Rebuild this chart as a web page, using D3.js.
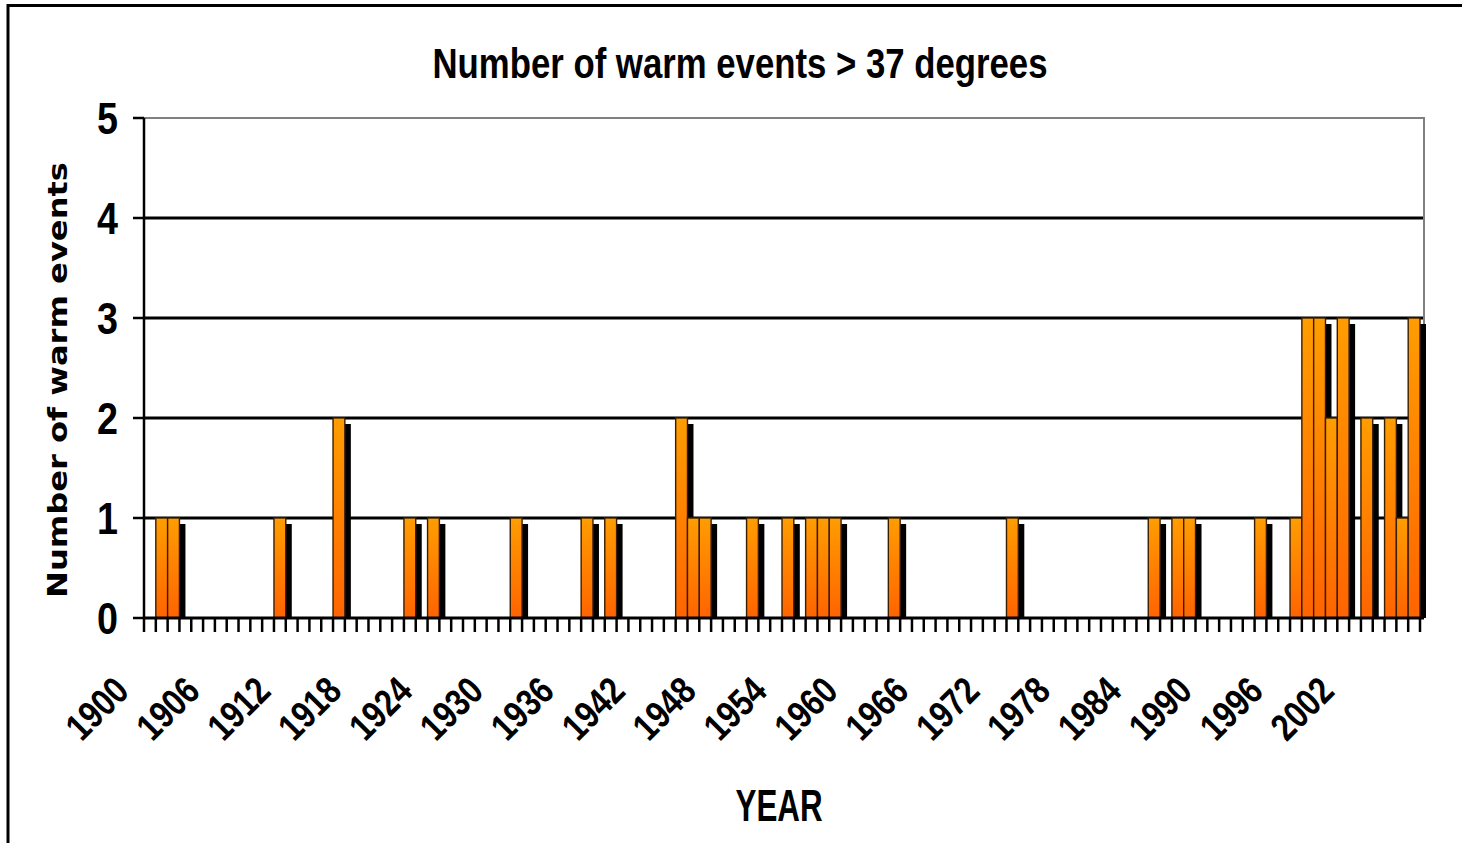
<!DOCTYPE html>
<html>
<head>
<meta charset="utf-8">
<script src="https://cdn.jsdelivr.net/npm/d3@7/dist/d3.min.js"></script>
<style>
  html, body { margin: 0; padding: 0; background: #fff; }
  svg { display: block; }
</style>
</head>
<body>
<svg id="chart" width="1462" height="843"></svg>
<script>
// Yearly categories 1900–2007
const years = d3.range(1900, 2008);

// Number of warm events (> 37 degrees) for each year, by decade
const counts1900s = [0, 1, 1, 0, 0, 0, 0, 0, 0, 0];
const counts1910s = [0, 1, 0, 0, 0, 0, 2, 0, 0, 0];
const counts1920s = [0, 0, 1, 0, 1, 0, 0, 0, 0, 0];
const counts1930s = [0, 1, 0, 0, 0, 0, 0, 1, 0, 1];
const counts1940s = [0, 0, 0, 0, 0, 2, 1, 1, 0, 0];
const counts1950s = [0, 1, 0, 0, 1, 0, 1, 1, 1, 0];
const counts1960s = [0, 0, 0, 1, 0, 0, 0, 0, 0, 0];
const counts1970s = [0, 0, 0, 1, 0, 0, 0, 0, 0, 0];
const counts1980s = [0, 0, 0, 0, 0, 1, 0, 1, 1, 0];
const counts1990s = [0, 0, 0, 0, 1, 0, 0, 1, 3, 3];
const counts2000s = [2, 3, 0, 2, 0, 2, 1, 3];

// Labelled categories on the x axis
const xTickLabels = ["1900", "1906", "1912", "1918", "1924", "1930", "1936", "1942",
  "1948", "1954", "1960", "1966", "1972", "1978", "1984", "1990", "1996", "2002"];
const yTickValues = [0, 1, 2, 3, 4, 5];

const counts = [].concat(counts1900s, counts1910s, counts1920s, counts1930s, counts1940s,
  counts1950s, counts1960s, counts1970s, counts1980s, counts1990s, counts2000s);
const data = years.map((y, i) => ({ year: y, value: counts[i] }));

const svg = d3.select("#chart");
const font = "'Liberation Sans', Arial, sans-serif";

// Plot area
const plot = { left: 144, right: 1424, top: 118, bottom: 618 };
const x = d3.scaleBand().domain(years).range([plot.left, 1420]).paddingInner(0).paddingOuter(0);
const y = d3.scaleLinear().domain([0, 5]).range([plot.bottom, plot.top]);

// Outer chart frame
svg.append("rect")
  .attr("x", 8).attr("y", 5.5).attr("width", 1480).attr("height", 880)
  .attr("fill", "#fff").attr("stroke", "#000").attr("stroke-width", 3);

// Bar gradient
const defs = svg.append("defs");
const grad = defs.append("linearGradient").attr("id", "barFill")
  .attr("x1", 0).attr("y1", 0).attr("x2", 0).attr("y2", 1);
grad.append("stop").attr("offset", "0%").attr("stop-color", "#ff9d00");
grad.append("stop").attr("offset", "100%").attr("stop-color", "#ff6400");

defs.append("clipPath").attr("id", "plotClip")
  .append("rect").attr("x", plot.left).attr("y", plot.top - 2)
  .attr("width", plot.right - plot.left + 6).attr("height", plot.bottom - plot.top + 2);

// Horizontal gridlines
svg.append("g").selectAll("line")
  .data(yTickValues.filter(v => v > 0 && v < 5))
  .join("line")
  .attr("x1", plot.left).attr("x2", plot.right)
  .attr("y1", d => y(d)).attr("y2", d => y(d))
  .attr("stroke", "#000").attr("stroke-width", 3);

// Plot area border (top and right)
svg.append("path")
  .attr("d", `M${plot.left},${plot.top}H${plot.right}V${plot.bottom}`)
  .attr("fill", "none").attr("stroke", "#808080").attr("stroke-width", 2);

const events = data.filter(d => d.value > 0);
const shadowOffset = 6;

// Drop shadows
svg.append("g").attr("clip-path", "url(#plotClip)")
  .selectAll("rect")
  .data(events)
  .join("rect")
  .attr("x", d => x(d.year) + shadowOffset)
  .attr("y", d => y(d.value) + shadowOffset)
  .attr("width", x.bandwidth())
  .attr("height", d => y(0) - y(d.value))
  .attr("fill", "#000");

// Bars
svg.append("g")
  .selectAll("rect")
  .data(events)
  .join("rect")
  .attr("x", d => x(d.year))
  .attr("y", d => y(d.value))
  .attr("width", x.bandwidth())
  .attr("height", d => y(0) - y(d.value))
  .attr("fill", "url(#barFill)")
  .attr("stroke", "#3a1e00").attr("stroke-width", 1.4);

// Y axis line and ticks
svg.append("line")
  .attr("x1", plot.left).attr("x2", plot.left)
  .attr("y1", plot.top).attr("y2", plot.bottom)
  .attr("stroke", "#000").attr("stroke-width", 2.5);
svg.append("g").selectAll("line")
  .data(yTickValues)
  .join("line")
  .attr("x1", plot.left - 11).attr("x2", plot.left)
  .attr("y1", d => y(d)).attr("y2", d => y(d))
  .attr("stroke", "#000").attr("stroke-width", 2.5);
svg.append("g").selectAll("text")
  .data(yTickValues)
  .join("text")
  .attr("x", 118).attr("y", d => y(d) + 15.5)
  .attr("text-anchor", "end")
  .attr("font-family", font).attr("font-weight", "bold").attr("font-size", 44)
  .attr("textLength", 21).attr("lengthAdjust", "spacingAndGlyphs")
  .text(d => d);

// X axis line and tick marks at category boundaries
svg.append("line")
  .attr("x1", plot.left).attr("x2", plot.right)
  .attr("y1", plot.bottom).attr("y2", plot.bottom)
  .attr("stroke", "#000").attr("stroke-width", 3);
const boundaries = years.map(yr => x(yr)).concat([x.range()[1]]);
svg.append("g").selectAll("line")
  .data(boundaries)
  .join("line")
  .attr("x1", d => d).attr("x2", d => d)
  .attr("y1", plot.bottom).attr("y2", plot.bottom + 14)
  .attr("stroke", "#000").attr("stroke-width", 2.5);

// Rotated year labels
svg.append("g").selectAll("text")
  .data(xTickLabels)
  .join("text")
  .attr("transform", d => `translate(${x(+d) + x.bandwidth() / 2 - 19},693) rotate(-45)`)
  .attr("text-anchor", "end")
  .attr("font-family", font).attr("font-weight", "bold").attr("font-size", 38)
  .attr("textLength", 70).attr("lengthAdjust", "spacingAndGlyphs")
  .text(d => d);

// Title
svg.append("text")
  .attr("x", 740).attr("y", 78)
  .attr("text-anchor", "middle")
  .attr("font-family", font).attr("font-weight", "bold").attr("font-size", 42)
  .attr("textLength", 615).attr("lengthAdjust", "spacingAndGlyphs")
  .text("Number of warm events > 37 degrees");

// Axis titles
svg.append("text")
  .attr("transform", "translate(67,380) rotate(-90)")
  .attr("text-anchor", "middle")
  .attr("font-family", "'DejaVu Sans', Verdana, sans-serif").attr("font-weight", "bold").attr("font-size", 27)
  .attr("textLength", 436).attr("lengthAdjust", "spacingAndGlyphs")
  .text("Number of warm events");

svg.append("text")
  .attr("x", 779).attr("y", 821)
  .attr("text-anchor", "middle")
  .attr("font-family", font).attr("font-weight", "bold").attr("font-size", 44)
  .attr("textLength", 87).attr("lengthAdjust", "spacingAndGlyphs")
  .text("YEAR");
</script>
</body>
</html>
